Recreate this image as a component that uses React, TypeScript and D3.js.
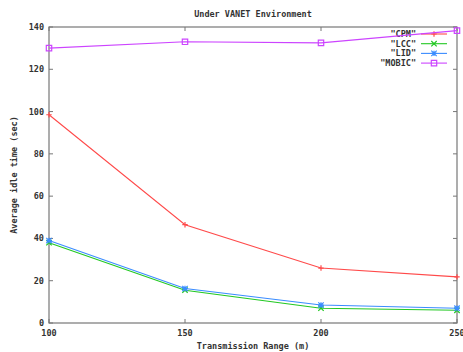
import React, { useEffect, useRef } from 'react'
import * as d3 from 'd3'

const ranges = [100, 150, 200, 250]
const cpm = [98.5, 46.5, 26, 21.8]
const lcc = [38, 15.5, 7, 6]
const lid = [39, 16.3, 8.5, 7]
const mobic = [130, 133, 132.5, 138.3]
const yTicks = [0, 20, 40, 60, 80, 100, 120, 140]

const series = [
  { name: '"CPM"', values: cpm, color: '#ff4a4a', marker: 'plus' },
  { name: '"LCC"', values: lcc, color: '#22c822', marker: 'cross' },
  { name: '"LID"', values: lid, color: '#3a8cff', marker: 'star' },
  { name: '"MOBIC"', values: mobic, color: '#cc44ff', marker: 'square' },
]

const App = () => {
  const svgRef = useRef<SVGSVGElement>(null)

  useEffect(() => {
    const width = 463
    const height = 352
    const left = 49, right = 457, top = 27, bottom = 323
    const font = '"DejaVu Sans Mono", monospace'

    const svg = d3.select(svgRef.current)
    svg.selectAll('*').remove()
    svg.attr('width', width).attr('height', height)

    const x = d3.scaleLinear().domain([100, 250]).range([left, right])
    const y = d3.scaleLinear().domain([0, 140]).range([bottom, top])

    // frame
    svg.append('rect')
      .attr('x', left).attr('y', top)
      .attr('width', right - left).attr('height', bottom - top)
      .attr('fill', 'none').attr('stroke', '#777').attr('stroke-width', 1.2)

    // ticks, mirrored
    const tk = 4
    yTicks.forEach(t => {
      svg.append('line').attr('x1', left).attr('x2', left + tk)
        .attr('y1', y(t)).attr('y2', y(t)).attr('stroke', '#777')
      svg.append('line').attr('x1', right).attr('x2', right - tk)
        .attr('y1', y(t)).attr('y2', y(t)).attr('stroke', '#777')
      svg.append('text').attr('x', left - 5).attr('y', y(t) + 3)
        .attr('text-anchor', 'end').attr('font-family', font)
        .attr('font-size', 8.5).attr('font-weight', 'bold').attr('fill', '#333')
        .text(t)
    })
    ranges.forEach(t => {
      svg.append('line').attr('x1', x(t)).attr('x2', x(t))
        .attr('y1', bottom).attr('y2', bottom - tk).attr('stroke', '#777')
      svg.append('line').attr('x1', x(t)).attr('x2', x(t))
        .attr('y1', top).attr('y2', top + tk).attr('stroke', '#777')
      svg.append('text').attr('x', x(t)).attr('y', bottom + 13)
        .attr('text-anchor', 'middle').attr('font-family', font)
        .attr('font-size', 8.5).attr('font-weight', 'bold').attr('fill', '#333')
        .text(t)
    })

    // titles
    svg.append('text').attr('x', 253).attr('y', 17)
      .attr('text-anchor', 'middle').attr('font-family', font)
      .attr('font-size', 8.5).attr('font-weight', 'bold').attr('fill', '#333')
      .text('Under VANET Environment')
    svg.append('text').attr('x', 253).attr('y', 349)
      .attr('text-anchor', 'middle').attr('font-family', font)
      .attr('font-size', 8.5).attr('font-weight', 'bold').attr('fill', '#333')
      .text('Transmission Range (m)')
    svg.append('text')
      .attr('transform', `translate(17,${(top + bottom) / 2}) rotate(-90)`)
      .attr('text-anchor', 'middle').attr('font-family', font)
      .attr('font-size', 8.5).attr('font-weight', 'bold').attr('fill', '#333')
      .text('Average idle time (sec)')

    const drawMarker = (g: any, kind: string, cx: number, cy: number, color: string) => {
      const s = 2.7
      const p = d3.path()
      if (kind === 'plus' || kind === 'star') {
        p.moveTo(cx - s, cy); p.lineTo(cx + s, cy)
        p.moveTo(cx, cy - s); p.lineTo(cx, cy + s)
      }
      if (kind === 'cross' || kind === 'star') {
        p.moveTo(cx - s, cy - s); p.lineTo(cx + s, cy + s)
        p.moveTo(cx - s, cy + s); p.lineTo(cx + s, cy - s)
      }
      if (kind === 'square') {
        p.rect(cx - s, cy - s, 2 * s, 2 * s)
      }
      g.append('path').attr('d', p.toString()).attr('fill', 'none')
        .attr('stroke', color).attr('stroke-width', 1.2)
    }

    const line = d3.line<number>()
      .x((_, i) => x(ranges[i]))
      .y(d => y(d))

    series.forEach((s, si) => {
      const g = svg.append('g')
      g.append('path').datum(s.values).attr('d', line)
        .attr('fill', 'none').attr('stroke', s.color).attr('stroke-width', 1.1)
      s.values.forEach((v, i) => drawMarker(g, s.marker, x(ranges[i]), y(v), s.color))

      // legend
      const ly = 34 + si * 9.7
      svg.append('text').attr('x', 416).attr('y', ly + 3)
        .attr('text-anchor', 'end').attr('font-family', font)
        .attr('font-size', 8.5).attr('font-weight', 'bold').attr('fill', '#333')
        .text(s.name)
      svg.append('line').attr('x1', 421).attr('x2', 447)
        .attr('y1', ly).attr('y2', ly)
        .attr('stroke', s.color).attr('stroke-width', 1.1)
      drawMarker(svg, s.marker, 434, ly, s.color)
    })
  }, [])

  return (
    <svg ref={svgRef} style={{ position: 'absolute', left: 0, top: 0, background: '#fff' }}></svg>
  )
}

export default App
